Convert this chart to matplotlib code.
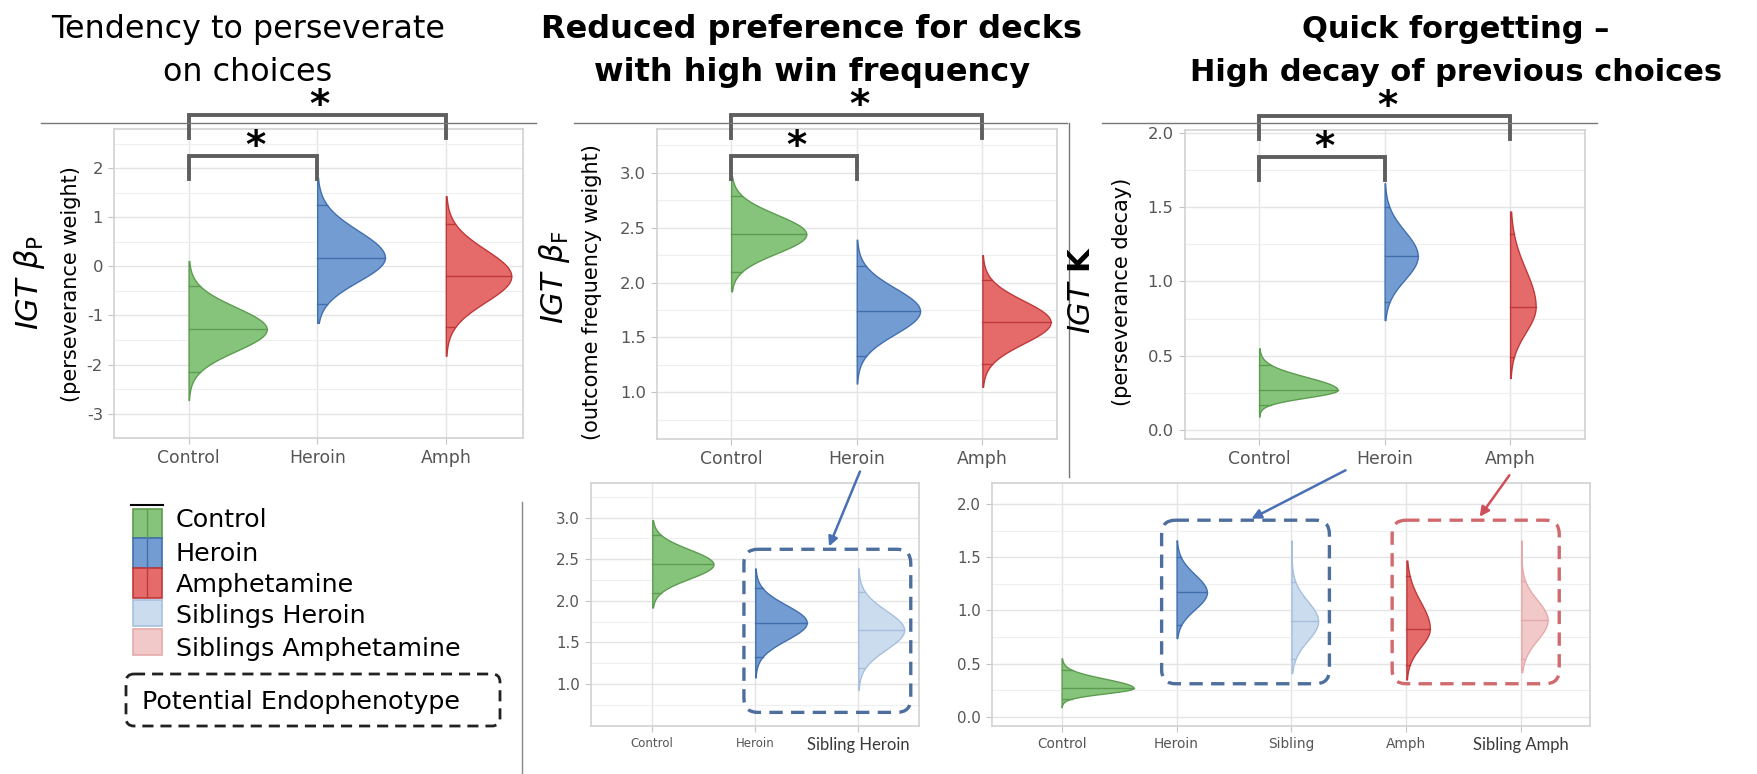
import numpy as np
import matplotlib
matplotlib.use('Agg')
import matplotlib.pyplot as plt
from matplotlib.patches import FancyBboxPatch, Rectangle, FancyArrowPatch

W, H = 1758, 774

plt.rcParams['font.family'] = ['DejaVu Sans']
plt.rcParams['mathtext.fontset'] = 'dejavusans'

# ---- values: median, 95% interval, sample range ----
groups = ['Control', 'Heroin', 'Amph']

bp_med = [-1.28, 0.18, -0.20]
bp_lo = [-2.15, -0.77, -1.23]
bp_hi = [-0.40, 1.25, 0.86]
bp_min = [-2.72, -1.15, -1.82]
bp_max = [0.11, 1.81, 1.43]

bf_med = [2.44, 1.74, 1.64]
bf_lo = [2.10, 1.33, 1.26]
bf_hi = [2.79, 2.15, 2.02]
bf_min = [1.92, 1.08, 1.05]
bf_max = [2.97, 2.39, 2.25]

k_med = [0.27, 1.17, 0.83]
k_lo = [0.17, 0.86, 0.49]
k_hi = [0.44, 1.50, 1.32]
k_min = [0.09, 0.74, 0.35]
k_max = [0.55, 1.66, 1.47]

# siblings
sib_bf = dict(med=1.65, lo=1.19, hi=2.11, mn=0.93, mx=2.39)
sib_k_her = dict(med=0.90, lo=0.54, hi=1.27, mn=0.41, mx=1.66)
sib_k_amp = dict(med=0.91, lo=0.54, hi=1.28, mn=0.42, mx=1.66)

bot1_labels = ['Control', 'Heroin', 'Sibling Heroin']
bot2_labels = ['Control', 'Heroin', 'Sibling', 'Amph', 'Sibling Amph']

legend_labels = ['Control', 'Heroin', 'Amphetamine', 'Siblings Heroin', 'Siblings Amphetamine']

# colours
FILL = {'Control': '#86c47b', 'Heroin': '#739dd2', 'Amph': '#e56b6b',
        'SibH': '#cbdcef', 'SibA': '#f2c9c9'}
EDGE = {'Control': '#5c9c50', 'Heroin': '#416fae', 'Amph': '#c0383a',
        'SibH': '#a7bfdd', 'SibA': '#e6aaaa'}

fig = plt.figure(figsize=(W / 100, H / 100), dpi=100)


def px_axes(l, t, r, b):
    return fig.add_axes([l / W, 1 - b / H, (r - l) / W, (b - t) / H])


def half_violin(ax, x0, med, lo, hi, mn, mx, k, fc, ec):
    y = np.linspace(mn, mx, 400)
    s_lo = (med - lo) / 1.96
    s_hi = (hi - med) / 1.96
    s = np.where(y < med, s_lo, s_hi)
    dens = np.sqrt(2 / np.pi) / (s_lo + s_hi) * np.exp(-0.5 * ((y - med) / s) ** 2)
    w = k * dens
    ax.fill_betweenx(y, x0, x0 + w, facecolor=fc, edgecolor=ec, lw=1.0, zorder=3)
    for q in (lo, med, hi):
        wq = np.interp(q, y, w)
        ax.plot([x0, x0 + wq], [q, q], color=ec, lw=1.0, zorder=4)


def gg_style(ax, xlim, ylim, yticks, minor, labels, xfs, yfs, fmt):
    ax.set_xlim(*xlim)
    ax.set_ylim(*ylim)
    ax.set_xticks(range(len(labels)))
    ax.set_xticklabels(labels)
    ax.set_yticks(yticks)
    ax.set_yticklabels([fmt.format(v) for v in yticks])
    ax.set_yticks(minor, minor=True)
    ax.grid(which='major', color='#e4e4e4', lw=1.0)
    ax.grid(which='minor', axis='y', color='#efefef', lw=0.8)
    ax.set_axisbelow(True)
    for sp in ax.spines.values():
        sp.set_color('#d2d2d2')
        sp.set_linewidth(1.2)
    ax.tick_params(which='major', length=4, color='#c4c4c4', labelcolor='#555555', pad=4)
    ax.tick_params(which='minor', length=0)
    ax.tick_params(axis='x', labelsize=xfs)
    ax.tick_params(axis='y', labelsize=yfs)


def bracket(ax, x1, x2, top, bot):
    ax.plot([x1, x1, x2, x2], [bot, top, top, bot], color='#5e5e5e', lw=2.8,
            transform=ax.get_xaxis_transform(), clip_on=False, zorder=6,
            solid_joinstyle='miter')
    ax.text((x1 + x2) / 2 + 0.02, top + 0.03, '*', ha='center', va='center',
            fontsize=28, fontweight='bold', transform=ax.get_xaxis_transform(),
            clip_on=False)


def top_panel(box, med, lo, hi, mn, mx, k, xlim, ylim, yticks, minor, fmt):
    ax = px_axes(*box)
    gg_style(ax, xlim, ylim, yticks, minor, groups, 12.4, 11.8, fmt)
    for i, g in enumerate(groups):
        half_violin(ax, i, med[i], lo[i], hi[i], mn[i], mx[i], k, FILL[g], EDGE[g])
    bracket(ax, 0, 1, 0.913, 0.838)
    bracket(ax, 0, 2, 1.045, 0.972)
    return ax


ax1 = top_panel((114, 129.3, 523, 438.3), bp_med, bp_lo, bp_hi, bp_min, bp_max, 0.68,
                (-0.58, 2.6), (-3.36, 2.79), list(range(-3, 3)),
                list(np.arange(-3.5, 3.0, 0.5)), '{:g}')
ax2 = top_panel((657, 129.3, 1056.5, 439), bf_med, bf_lo, bf_hi, bf_min, bf_max, 0.264,
                (-0.59, 2.59), (0.575, 3.395), [1.0, 1.5, 2.0, 2.5, 3.0],
                list(np.arange(0.75, 3.5, 0.25)), '{:.1f}')
ax3 = top_panel((1184.7, 130, 1585.4, 439), k_med, k_lo, k_hi, k_min, k_max, 0.108,
                (-0.593, 2.6), (-0.06, 2.018), [0.0, 0.5, 1.0, 1.5, 2.0],
                list(np.arange(0.25, 2.0, 0.25)), '{:.1f}')

# ---- bottom panels ----
ax4 = px_axes(591, 482.7, 919, 725.7)
gg_style(ax4, (-0.595, 2.59), (0.50, 3.42), [1.0, 1.5, 2.0, 2.5, 3.0],
         list(np.arange(0.75, 3.5, 0.25)), bot1_labels, 8.5, 10.8, '{:.1f}')
for i, g in enumerate(['Control', 'Heroin']):
    half_violin(ax4, i, bf_med[i], bf_lo[i], bf_hi[i], bf_min[i], bf_max[i], 0.262,
                FILL[g], EDGE[g])
half_violin(ax4, 2, sib_bf['med'], sib_bf['lo'], sib_bf['hi'], sib_bf['mn'], sib_bf['mx'],
            0.262, FILL['SibH'], EDGE['SibH'])

ax5 = px_axes(992, 482.7, 1589.7, 725.7)
gg_style(ax5, (-0.606, 4.595), (-0.085, 2.203), [0.0, 0.5, 1.0, 1.5, 2.0],
         list(np.arange(0.25, 2.25, 0.25)), bot2_labels, 9.8, 10.8, '{:.1f}')
for i, g in zip([0, 1, 3], groups):
    j = groups.index(g)
    half_violin(ax5, i, k_med[j], k_lo[j], k_hi[j], k_min[j], k_max[j], 0.108,
                FILL[g], EDGE[g])
for i, d, key in [(2, sib_k_her, 'SibH'), (4, sib_k_amp, 'SibA')]:
    half_violin(ax5, i, d['med'], d['lo'], d['hi'], d['mn'], d['mx'], 0.108,
                FILL[key], EDGE[key])

for ax, idx in [(ax4, [2]), (ax5, [4])]:
    for i in idx:
        t = ax.get_xticklabels()[i]
        t.set_fontfamily(['Lato', 'DejaVu Sans'])
        t.set_fontsize(12)
        t.set_color('#3a3a3a')

# ---- overlay for annotations ----
ov = fig.add_axes([0, 0, 1, 1], zorder=10)
ov.set_xlim(0, W)
ov.set_ylim(H, 0)
ov.axis('off')


def to_px(ax, x, y):
    dx, dy = ax.transData.transform((x, y))
    return dx, H - dy


def dashed_box(ax, x1, x2, y1, y2, color):
    l, t = to_px(ax, x1, y2)
    r, b = to_px(ax, x2, y1)
    ov.add_patch(FancyBboxPatch((l, t), r - l, b - t,
                                boxstyle='round,pad=0,rounding_size=14',
                                fill=False, ec=color, lw=2.4, ls=(0, (4, 2.5))))


dashed_box(ax4, 0.89, 2.51, 0.66, 2.62, '#4e6e9e')
dashed_box(ax5, 0.87, 2.33, 0.31, 1.85, '#4e6e9e')
dashed_box(ax5, 2.876, 4.33, 0.31, 1.85, '#d06a6e')

for (x0, y0), (x1, y1), c in [((861, 469), (828, 549), '#4a6fb5'),
                              ((1348, 469), (1249, 520), '#4a6fb5'),
                              ((1511, 473), (1478, 519), '#d0505a')]:
    ov.add_patch(FancyArrowPatch((x0, y0), (x1, y1), arrowstyle='-|>',
                                 mutation_scale=14, color=c, lw=1.8))

# separator lines
for x0, x1 in [(41, 536), (574, 1067), (1102, 1597)]:
    ov.plot([x0, x1], [123.3, 123.3], color='#777777', lw=1.0)
ov.plot([1069, 1069], [123.3, 477], color='#777777', lw=1.0)
ov.plot([522, 522], [502, 774], color='#888888', lw=1.0)

# titles (one text per line)
for cx, lines, fs, wt in [(248, ['Tendency to perseverate', 'on choices'], 22.9, 'normal'),
                          (812, ['Reduced preference for decks', 'with high win frequency'],
                           23, 'bold'),
                          (1456, ['Quick forgetting \u2013', 'High decay of previous choices'],
                           22, 'bold')]:
    for line, yb in zip(lines, [38, 81]):
        ov.text(cx, yb, line, ha='center', va='baseline', fontsize=fs, fontweight=wt)

# y labels
ov.text(30, 283, r'$\mathit{IGT}\ \beta_{\mathrm{P}}$', rotation=90, ha='center',
        va='center', fontsize=22)
ov.text(71, 284, '(perseverance weight)', rotation=90, ha='center', va='center', fontsize=15)
ov.text(555, 277, r'$\mathit{IGT}\ \beta_{\mathrm{F}}$', rotation=90, ha='center',
        va='center', fontsize=22)
ov.text(592, 292, '(outcome frequency weight)', rotation=90, ha='center', va='center',
        fontsize=15)
ov.text(1082, 290, r'$\mathit{IGT}\ \mathbf{K}$', rotation=90, ha='center', va='center',
        fontsize=22)
ov.text(1122, 292, '(perseverance decay)', rotation=90, ha='center', va='center', fontsize=15)

# legend
leg_keys = ['Control', 'Heroin', 'Amph', 'SibH', 'SibA']
leg_rows = [(509, 538), (538, 568), (568, 598), (600, 626), (629, 655)]
leg_base = [526.7, 560.7, 591.7, 623.3, 656]
ov.plot([131, 163], [505, 505], color='black', lw=1.5)
for i, (key, lab) in enumerate(zip(leg_keys, legend_labels)):
    t, b = leg_rows[i]
    ov.add_patch(Rectangle((133, t), 29, b - t, fc=FILL[key], ec=EDGE[key], lw=1.2))
    if i < 3:
        ov.plot([147.5, 147.5], [t + 1, b - 1], color=EDGE[key], lw=1.0)
    ov.text(176, leg_base[i], lab, ha='left', va='baseline', fontsize=18.3)
ov.add_patch(FancyBboxPatch((126, 674), 374, 52, boxstyle='round,pad=0,rounding_size=8',
                            fill=False, ec='#222222', lw=2.0, ls=(0, (4, 2.5))))
ov.text(141.7, 709.3, 'Potential Endophenotype', ha='left', va='baseline', fontsize=18.3)

fig.savefig('out.png', dpi=100)
